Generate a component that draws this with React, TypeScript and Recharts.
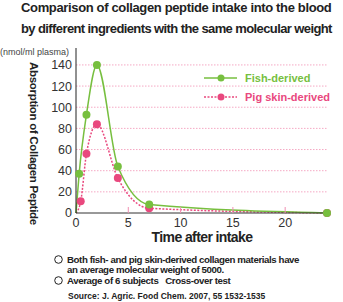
import { LineChart, Line, XAxis, YAxis, CartesianGrid, Legend } from 'recharts';

const fishTime = [0, 0.3, 1, 2, 4, 7, 24];
const fishValue = [0, 37, 93, 140, 44, 8, 0];
const pigTime = [0, 0.45, 1, 2, 4, 7, 24];
const pigValue = [0, 11, 56, 84, 33, 4.5, 0];
const xTicks = [0, 5, 10, 15, 20];
const yTicks = [0, 20, 40, 60, 80, 100, 120, 140];
const gridValues = [20, 40, 60, 80, 100, 120, 140];

const GREEN = '#77bf3f';
const PINK = '#e9487e';
const FONT = '"Liberation Sans", Arial, sans-serif';

const fishData = fishTime.map((t, i) => ({ t, v: fishValue[i] }));
const pigData = pigTime.map((t, i) => ({ t, v: pigValue[i] }));

const makeDot = (color: string) => (p: any) => {
  if (p.index === 0) return <g key={p.key} />;
  return <circle key={p.key} cx={p.cx} cy={p.cy} r={4} fill={color} stroke="none" />;
};

const XTick = (props: any) => {
  const { x, y, payload } = props;
  return (
    <g>
      {payload.value !== 0 && (
        <line x1={x} x2={x} y1={y} y2={y - 6} stroke="#f08fb2" strokeWidth={1} />
      )}
      <text x={x} y={y + 14} textAnchor="middle" fontSize={12.5} fill="#333" fontFamily={FONT}>
        {payload.value}
      </text>
    </g>
  );
};

const legendItems = [
  { name: 'Fish-derived', color: GREEN, dash: undefined },
  { name: 'Pig skin-derived', color: PINK, dash: '2 1.5' },
];

const LegendBox = () => (
  <div>
    {legendItems.map((it) => (
      <div key={it.name} style={{ display: 'flex', alignItems: 'center', height: 19 }}>
        <svg width={36} height={10}>
          <line x1={1} x2={34} y1={5} y2={5} stroke={it.color} strokeWidth={1.5} strokeDasharray={it.dash} />
          <circle cx={18} cy={5} r={3.5} fill={it.color} />
        </svg>
        <span style={{ marginLeft: 6, color: it.color, fontWeight: 'bold', fontSize: 11, fontFamily: FONT }}>
          {it.name}
        </span>
      </div>
    ))}
  </div>
);

const Circle = () => (
  <svg width={9} height={9} style={{ marginRight: 4, verticalAlign: '-1px' }}>
    <circle cx={4.5} cy={4.5} r={3.8} fill="none" stroke="#222" strokeWidth={1} />
  </svg>
);

export default function App() {
  return (
    <div style={{ position: 'absolute', left: 0, top: 0, width: 343, height: 302, background: '#fff', fontFamily: FONT, color: '#222', overflow: 'hidden' }}>
      <div style={{ position: 'absolute', left: 21, top: -3.5, fontSize: 13, fontWeight: 'bold', lineHeight: '21px', whiteSpace: 'nowrap' }}>
        <div style={{ letterSpacing: -0.35 }}>Comparison of collagen peptide intake into the blood</div>
        <div style={{ letterSpacing: -0.6 }}>by different ingredients with the same molecular weight</div>
      </div>
      <div style={{ position: 'absolute', left: 0, top: 47, fontSize: 9, lineHeight: '10px', color: '#444', whiteSpace: 'nowrap' }}>
        (nmol/ml plasma)
      </div>
      <div style={{ position: 'absolute', left: 28, top: 62, writingMode: 'vertical-rl', fontSize: 11.5, letterSpacing: -0.3, fontWeight: 'bold', whiteSpace: 'nowrap' }}>
        Absorption of Collagen Peptide
      </div>
      <LineChart width={343} height={302} margin={{ top: 48, right: 16, bottom: 69, left: 36 }} style={{ position: 'absolute', left: 0, top: 0 }}>
        <CartesianGrid vertical={false} horizontalValues={gridValues} stroke="#f5a9c4" strokeDasharray="1.5 1.5" />
        <XAxis type="number" dataKey="t" domain={[0, 24]} ticks={xTicks} interval={0} axisLine={{ stroke: '#333' }} tickLine={false} tickSize={0} tickMargin={0} height={20} tick={<XTick />} />
        <YAxis type="number" domain={[0, 156]} ticks={yTicks} interval={0} width={40} axisLine={{ stroke: '#222' }} tickLine={false} tickSize={0} tickMargin={4} tick={{ fontSize: 12.5, fill: '#333', fontFamily: FONT }} />
        <Legend content={<LegendBox />} layout="horizontal" verticalAlign="middle" align="center" wrapperStyle={{ position: 'absolute', left: 203, top: 68, width: 140 }} />
        <Line data={pigData} dataKey="v" name="Pig skin-derived" type="monotone" stroke={PINK} strokeWidth={1.5} strokeDasharray="2 1.5" dot={makeDot(PINK)} isAnimationActive={false} />
        <Line data={fishData} dataKey="v" name="Fish-derived" type="monotone" stroke={GREEN} strokeWidth={1.5} dot={makeDot(GREEN)} isAnimationActive={false} />
      </LineChart>
      <div style={{ position: 'absolute', left: 202, top: 229, transform: 'translateX(-50%)', fontSize: 14, letterSpacing: -0.6, fontWeight: 'bold', whiteSpace: 'nowrap' }}>
        Time after intake
      </div>
      <div style={{ position: 'absolute', left: 54, top: 254.5, fontSize: 9.7, letterSpacing: -0.4, fontWeight: 'bold', lineHeight: '10.5px', whiteSpace: 'nowrap', color: '#222' }}>
        <div><Circle />Both fish- and pig skin-derived collagen materials have</div>
        <div style={{ paddingLeft: 13 }}>an average molecular weight of 5000.</div>
        <div><Circle />Average of 6 subjects&nbsp;&nbsp;&nbsp;Cross-over test</div>
      </div>
      <div style={{ position: 'absolute', left: 68, top: 291, fontSize: 8.5, fontWeight: 'bold', whiteSpace: 'nowrap', color: '#222' }}>
        Source: J. Agric. Food Chem. 2007, 55 1532-1535
      </div>
    </div>
  );
}
